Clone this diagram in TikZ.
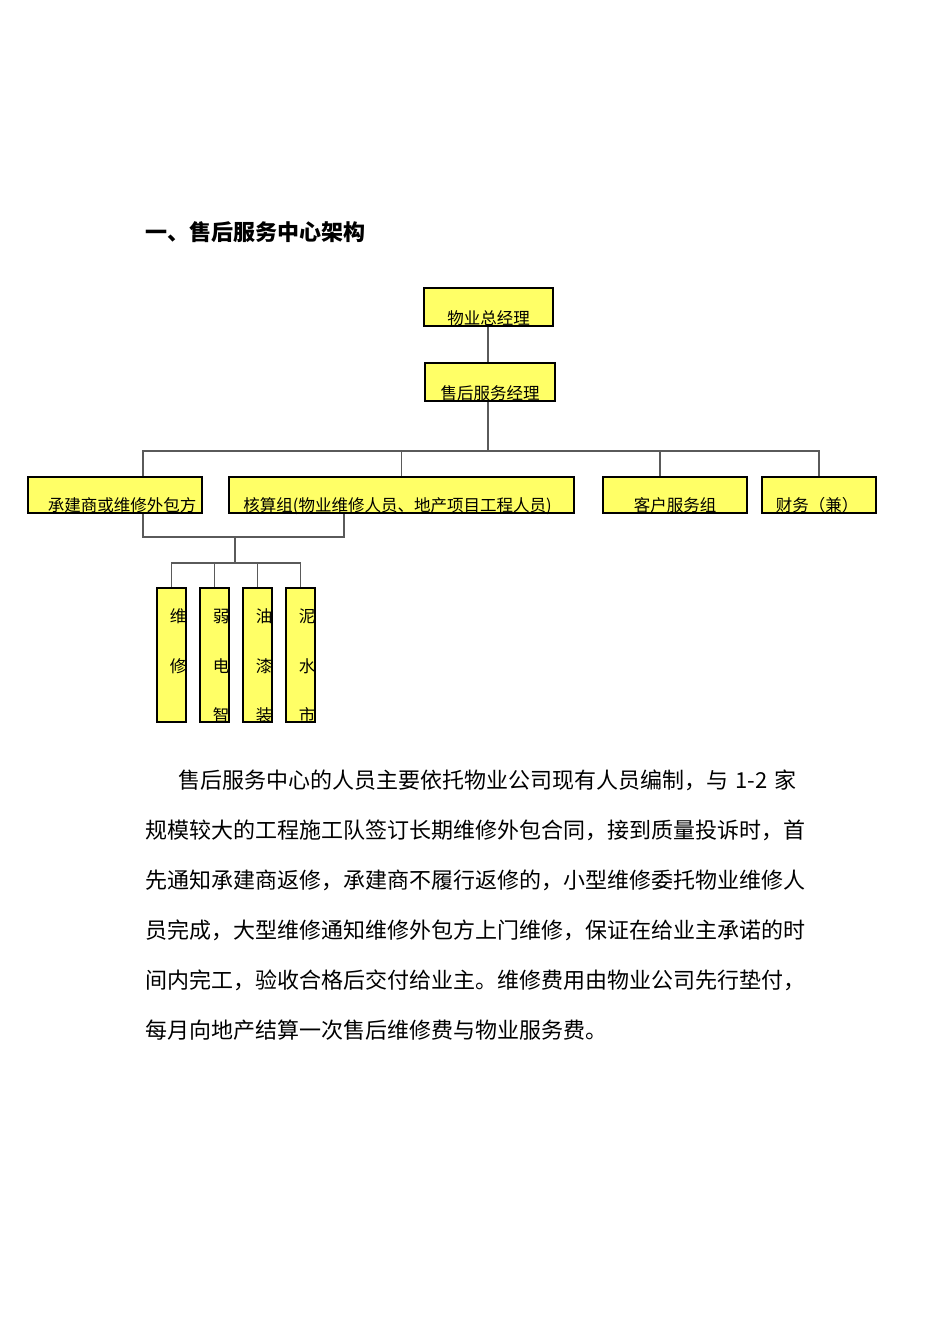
\documentclass[tikz,border=0pt]{standalone}
\usepackage{fontspec}
\setmainfont{Noto Sans CJK SC}
\usepackage{tikz}
\usetikzlibrary{positioning}
\definecolor{boxyellow}{RGB}{255,255,102}
\definecolor{linegray}{RGB}{90,90,90}

\begin{document}
\begin{tikzpicture}[
  x=1pt, y=-1pt,
  box/.style={rectangle, draw=black, line width=1.1pt, fill=boxyellow,
              inner sep=0pt, minimum height=36pt},
  tall/.style={rectangle, draw=black, line width=1.1pt, fill=boxyellow,
               inner sep=0pt, minimum width=29pt, minimum height=134pt},
  lbl/.style={anchor=base, yshift=2pt, inner sep=0pt,
              font=\fontsize{16.5pt}{16.5pt}\selectfont},
  chr/.style={inner sep=0pt, font=\fontsize{16.5pt}{16.5pt}\selectfont},
  para/.style={anchor=base west, inner sep=0pt,
               font=\fontsize{22pt}{22pt}\selectfont},
  conn/.style={draw=linegray, line width=1.5pt}
]
\useasboundingbox (0,0) rectangle (950,1344);

\node[para, font=\fontsize{22pt}{22pt}\selectfont\bfseries] (title) at (145,240) {一、售后服务中心架构};

% top of the chart
\node[box, minimum width=129pt, minimum height=38pt,
      label={[lbl]south:物业总经理}] (gm) at (488.5,307) {};
\node[box, minimum width=130pt, minimum height=38pt,
      label={[lbl]south:售后服务经理}] (sm) at (490,382) {};

% groups
\node[box, minimum width=174pt, label={[lbl,xshift=7pt]south:承建商或维修外包方}] (c1) at (115,495) {};
\node[box, minimum width=345pt, label={[lbl,xshift=-4pt]south:核算组(物业维修人员、地产项目工程人员)}] (c2) at (401.5,495) {};
\node[box, minimum width=144pt, label={[lbl]south:客户服务组}] (c3) at (675,495) {};
\node[box, minimum width=114pt, label={[lbl,xshift=-2pt]south:财务（兼）}] (c4) at (819,495) {};

% trades
\node[tall] (t1) at (171.5,655) {};
\node[tall] (t2) at (214.5,655) {};
\node[tall] (t3) at (257.5,655) {};
\node[tall] (t4) at (300.5,655) {};
\foreach \n/\a/\b/\c in {t1/维/修/{}, t2/弱/电/智, t3/油/漆/装, t4/泥/水/市}{
  \begin{scope}
    \clip (\n.south west) rectangle (\n.north east);
    \node[chr] (\n-a) at ([xshift=6.5pt,yshift=-29pt]\n.north) {\a};
    \node[chr] (\n-b) at ([xshift=6.5pt,yshift=-79pt]\n.north) {\b};
    \node[chr] (\n-c) at ([xshift=6.5pt,yshift=-128pt]\n.north) {\c};
  \end{scope}
}

\coordinate (bus) at (488,451);
\coordinate (j1) at (235,537);
\coordinate (j2) at (235,563);

\draw[conn] (gm.south -| bus) -- (sm.north -| bus);
\draw[conn] (sm.south -| bus) -- (bus);
\draw[conn] (bus) -| ([xshift=28pt]c1.north);
\draw[conn] (bus) -| (c2.north);
\draw[conn] (bus) -| ([xshift=-15pt]c3.north);
\draw[conn] (bus) -| (c4.north);
\draw[conn] ([xshift=28pt]c1.south) |- (j1) -| ([xshift=-57.5pt]c2.south);
\draw[conn] (j1) -- (j2);
\foreach \t in {t1,t2,t3,t4}
  \draw[conn] (j2) -| (\t.north);

% paragraph
\node[para] (p1) at (178,788) {售后服务中心的人员主要依托物业公司现有人员编制，与\hspace{7pt}1-2\hspace{7pt}家};
\node[para] (p2) at (145,838) {规模较大的工程施工队签订长期维修外包合同，接到质量投诉时，首};
\node[para] (p3) at (145,888) {先通知承建商返修，承建商不履行返修的，小型维修委托物业维修人};
\node[para] (p4) at (145,938) {员完成，大型维修通知维修外包方上门维修，保证在给业主承诺的时};
\node[para] (p5) at (145,988) {间内完工，验收合格后交付给业主。维修费用由物业公司先行垫付，};
\node[para] (p6) at (145,1038) {每月向地产结算一次售后维修费与物业服务费。};
\end{tikzpicture}
\end{document}
